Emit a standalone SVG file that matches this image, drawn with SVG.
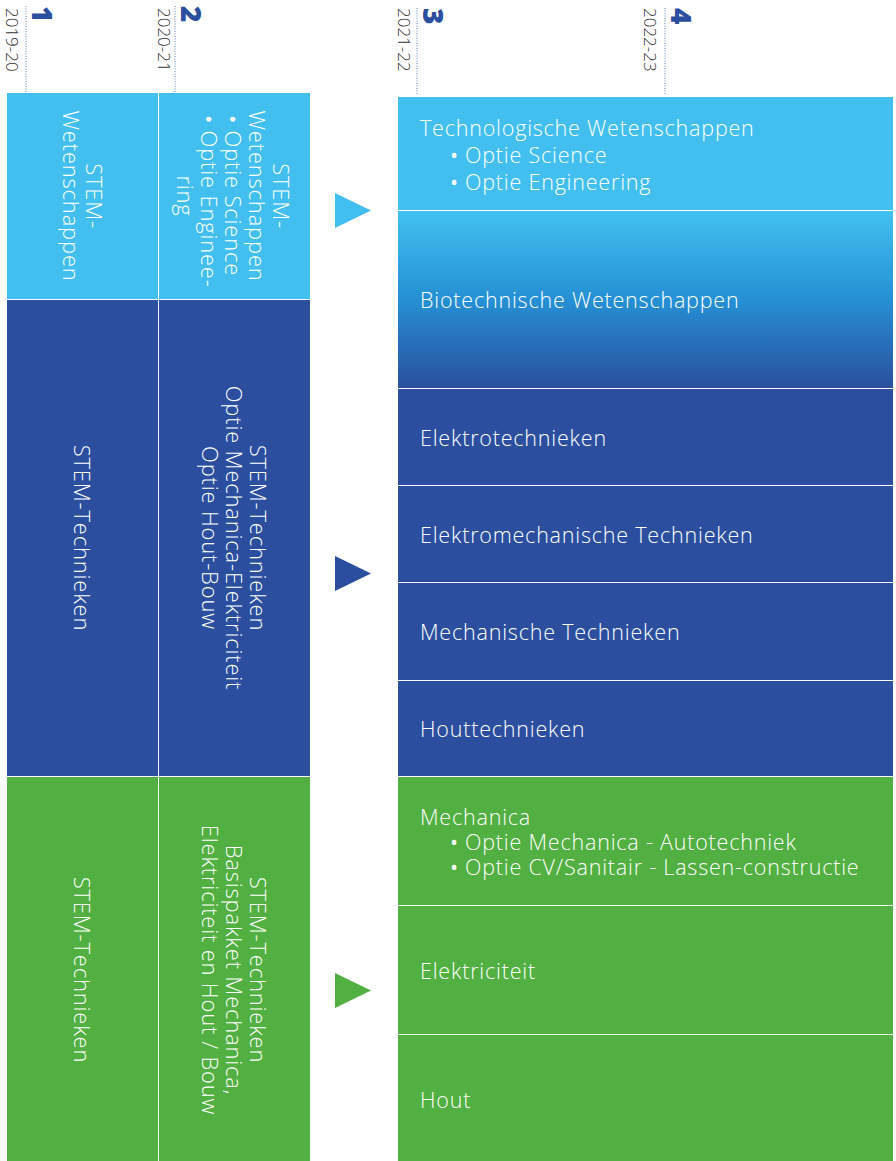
<svg xmlns="http://www.w3.org/2000/svg" width="896" height="1161" viewBox="0 0 896 1161">
<defs>
<linearGradient id="gBio" x1="0" y1="0" x2="0" y2="1">
<stop offset="0" stop-color="#42C0EF"/>
<stop offset="0.5" stop-color="#2590D4"/>
<stop offset="1" stop-color="#2B4F9E"/>
</linearGradient>
<style>
.lb{fill:#42BFEE}
.db{fill:#2B4F9E}
.gr{fill:#52AF41}
.t{font-family:"Open Sans","Liberation Sans",sans-serif;font-weight:300;fill:#ffffff}
.r{font-size:21.5px;letter-spacing:0.8px}
.v{font-size:22px;letter-spacing:0.8px}
.b{font-weight:400}
.yr{font-family:"Open Sans","Liberation Sans",sans-serif;font-weight:300;font-size:17px;fill:#333333}
.num{font-family:"Open Sans","Liberation Sans",sans-serif;font-weight:800;font-size:28px;fill:#2B4F9E}
.dot{stroke:#5B7FC6;stroke-width:1;stroke-dasharray:1 1.5;fill:none}
</style>
</defs>
<rect width="896" height="1161" fill="#ffffff"/>

<g id="header">
<line class="dot" x1="26" y1="6" x2="26" y2="92"/>
<line class="dot" x1="175" y1="6" x2="175" y2="92"/>
<line class="dot" x1="417" y1="8" x2="417" y2="94"/>
<line class="dot" x1="665" y1="8" x2="665" y2="94"/>
<text class="num" transform="translate(32,6) rotate(90)">1</text>
<text class="num" transform="translate(181,6) rotate(90)">2</text>
<text class="num" transform="translate(423,8) rotate(90)">3</text>
<text class="num" transform="translate(671,8) rotate(90)">4</text>
<text class="yr" transform="translate(6,8) rotate(90)">2019-20</text>
<text class="yr" transform="translate(158,8) rotate(90)">2020-21</text>
<text class="yr" transform="translate(398,8) rotate(90)">2021-22</text>
<text class="yr" transform="translate(644,8) rotate(90)">2022-23</text>
</g>

<g id="col1">
<rect class="lb" x="7" y="93" width="151" height="206"/>
<rect class="db" x="7" y="300" width="151" height="476"/>
<rect class="gr" x="7" y="777" width="151" height="384"/>
<text class="t v" text-anchor="middle" transform="translate(86,196) rotate(90)">STEM-</text>
<text class="t v" text-anchor="middle" transform="translate(63,196) rotate(90)">Wetenschappen</text>
<text class="t v" text-anchor="middle" transform="translate(74,538) rotate(90)">STEM-Technieken</text>
<text class="t v" text-anchor="middle" transform="translate(74,970) rotate(90)">STEM-Technieken</text>
</g>

<g id="col2">
<rect class="lb" x="159" y="93" width="151" height="206"/>
<rect class="db" x="159" y="300" width="151" height="476"/>
<rect class="gr" x="159" y="777" width="151" height="384"/>
<text class="t v" text-anchor="middle" transform="translate(273,196) rotate(90)">STEM-</text>
<text class="t v" text-anchor="middle" transform="translate(249,196) rotate(90)">Wetenschappen</text>
<text class="t v" transform="translate(225,115) rotate(90)"><tspan class="b">•</tspan> Optie Science</text>
<text class="t v" transform="translate(201,115) rotate(90)"><tspan class="b">•</tspan> Optie Enginee-</text>
<text class="t v" text-anchor="middle" transform="translate(177,196) rotate(90)">ring</text>
<text class="t v" text-anchor="middle" transform="translate(250,538) rotate(90)">STEM-Technieken</text>
<text class="t v" text-anchor="middle" transform="translate(226,538) rotate(90)">Optie Mechanica-Elektriciteit</text>
<text class="t v" text-anchor="middle" transform="translate(202,538) rotate(90)">Optie Hout-Bouw</text>
<text class="t v" text-anchor="middle" transform="translate(250,970) rotate(90)">STEM-Technieken</text>
<text class="t v" text-anchor="middle" transform="translate(226,970) rotate(90)">Basispakket Mechanica,</text>
<text class="t v" text-anchor="middle" transform="translate(202,970) rotate(90)">Elektriciteit en Hout / Bouw</text>
</g>

<g id="arrows">
<polygon points="335,193 371,210.5 335,228" fill="#42BFEE"/>
<polygon points="335,556 371,573.5 335,591" fill="#2B4F9E"/>
<polygon points="335,973 371,990.5 335,1008" fill="#52AF41"/>
</g>

<g id="n-techno">
<rect class="lb" x="398" y="97" width="495" height="113"/>
<text class="t r" x="420" y="136">Technologische Wetenschappen</text>
<text class="t r" y="163"><tspan class="b" x="450">•</tspan><tspan x="465">Optie Science</tspan></text>
<text class="t r" y="190"><tspan class="b" x="450">•</tspan><tspan x="465">Optie Engineering</tspan></text>
</g>
<g id="n-bio">
<rect x="398" y="211" width="495" height="177" fill="url(#gBio)"/>
<text class="t r" x="420" y="308">Biotechnische Wetenschappen</text>
</g>
<g id="n-elektro">
<rect class="db" x="398" y="389" width="495" height="96"/>
<text class="t r" x="420" y="446">Elektrotechnieken</text>
</g>
<g id="n-elektromech">
<rect class="db" x="398" y="486" width="495" height="96"/>
<text class="t r" x="420" y="543">Elektromechanische Technieken</text>
</g>
<g id="n-mech">
<rect class="db" x="398" y="583" width="495" height="97"/>
<text class="t r" x="420" y="640">Mechanische Technieken</text>
</g>
<g id="n-hout-tech">
<rect class="db" x="398" y="681" width="495" height="95"/>
<text class="t r" x="420" y="737">Houttechnieken</text>
</g>
<g id="n-mechanica">
<rect class="gr" x="398" y="777" width="495" height="128"/>
<text class="t r" x="420" y="825">Mechanica</text>
<text class="t r" y="850"><tspan class="b" x="450">•</tspan><tspan x="465">Optie Mechanica - Autotechniek</tspan></text>
<text class="t r" y="875"><tspan class="b" x="450">•</tspan><tspan x="465">Optie CV/Sanitair - Lassen-constructie</tspan></text>
</g>
<g id="n-elektriciteit">
<rect class="gr" x="398" y="906" width="495" height="128"/>
<text class="t r" x="420" y="979">Elektriciteit</text>
</g>
<g id="n-hout">
<rect class="gr" x="398" y="1035" width="495" height="126"/>
<text class="t r" x="420" y="1108">Hout</text>
</g>
</svg>
